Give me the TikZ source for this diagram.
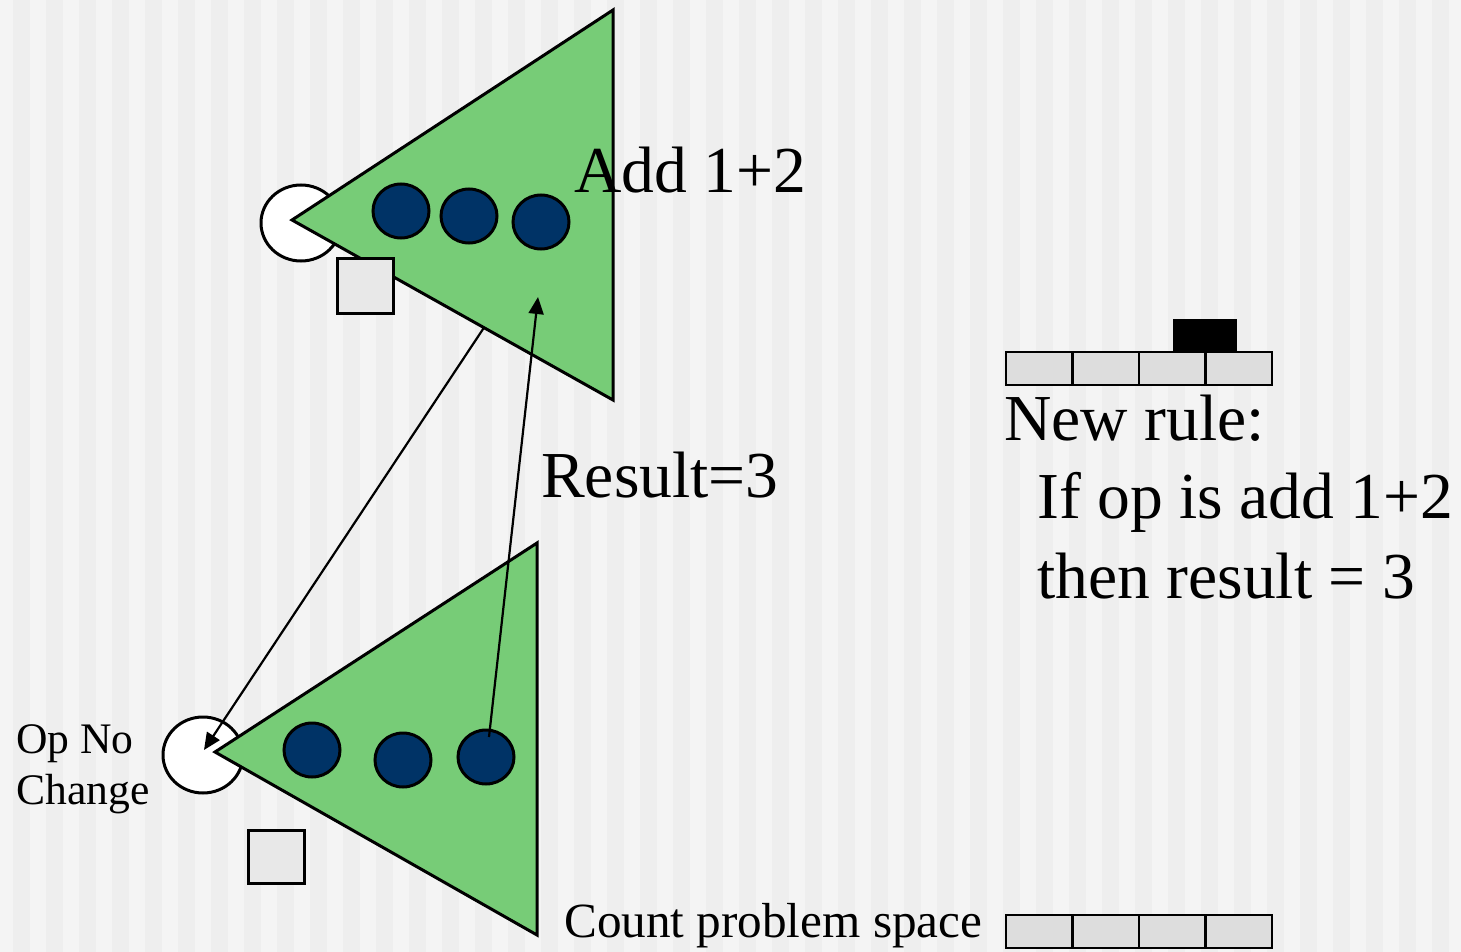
\documentclass[tikz,border=0pt]{standalone}
\usepackage{fontspec}
\setmainfont{Liberation Serif}
\usetikzlibrary{arrows.meta,calc}
\definecolor{bglight}{HTML}{F4F4F4}
\definecolor{bgdark}{HTML}{EEEEEE}
\definecolor{trigreen}{HTML}{77CC77}
\definecolor{navy}{HTML}{003366}
\definecolor{sqgray}{HTML}{E8E8E8}
\definecolor{cellgray}{HTML}{DDDDDD}
\tikzset{
  tri/.style={draw=black, fill=trigreen, line width=3pt, line join=miter},
  dot/.style={draw=black, fill=navy, line width=3pt},
  sq/.style={draw=black, fill=sqgray, line width=3pt},
  cell/.style={draw=black, fill=cellgray, line width=2.5pt},
  conn/.style={draw=black, line width=2.2pt, -{Triangle[length=17pt,width=15pt]}},
  bigtxt/.style={anchor=base west, inner sep=0pt, font=\fontsize{65.6}{78}\selectfont},
  midtxt/.style={anchor=base west, inner sep=0pt, font=\fontsize{49.2}{56}\selectfont},
  smalltxt/.style={anchor=base west, inner sep=0pt, font=\fontsize{43.6}{49}\selectfont, align=left},
}
\begin{document}
\begin{tikzpicture}[x=1pt,y=-1pt]
\useasboundingbox (0,0) rectangle (1461,952);
% background stripes
\fill[bglight] (0,0) rectangle (1461,952);
\foreach \k in {0,...,44} {
  \fill[bgdark] ({13+33*\k},0) rectangle ({30+33*\k},952);
}
% ---- top problem space ----
\draw[line width=3pt, fill=white] (301,223) ellipse [x radius=40, y radius=38];
\coordinate (tA) at (292,220);
\coordinate (tB) at (613,10);
\coordinate (tC) at (613,400);
\path[tri] (tA) -- (tB) -- (tC) -- cycle;
\path[sq] (337,258) rectangle (393,313);
\draw[dot] (401,211) ellipse [x radius=28, y radius=27];
\draw[dot] (469,216) ellipse [x radius=28, y radius=27];
\draw[dot] (541,222) ellipse [x radius=28, y radius=27];
% ---- bottom problem space ----
\draw[line width=3pt, fill=white] (203,755) ellipse [x radius=40, y radius=38];
\coordinate (bA) at (215,752);
\coordinate (bB) at (537,543);
\coordinate (bC) at (537,935);
\path[tri] (bA) -- (bB) -- (bC) -- cycle;
\path[sq] (248,830) rectangle (304,883);
\draw[dot] (312,750) ellipse [x radius=28, y radius=27];
\draw[dot] (403,760) ellipse [x radius=28, y radius=27];
\draw[dot] (486,757) ellipse [x radius=28, y radius=27];
% connector endpoints
\coordinate (topedge) at ($(tA)!0.598!(tC)$);
\coordinate (opnc) at (204,750);
\coordinate (dot3top) at (489,737);
\coordinate (topin) at (538,297);
\draw[conn] (topedge) -- (opnc);
\draw[conn] (dot3top) -- (topin);
% ---- tapes ----
\fill[black] (1173,319) rectangle (1237,352);
\foreach \i in {0,1,2,3} {
  \path[cell] ({1006+66.5*\i},352) rectangle ({1072.5+66.5*\i},385);
  \path[cell] ({1006+66.5*\i},915) rectangle ({1072.5+66.5*\i},948);
}
% ---- texts ----
\node[bigtxt] (add) at (574,193) {Add 1+2};
\node[bigtxt] (res) at (541,497) {Result=3};
\node[bigtxt] (nr) at (1004,440) {New rule:};
\node[bigtxt] (r1) at (1037,518) {If op is add 1+2};
\node[bigtxt] (r2) at (1037,598) {then result = 3};
\node[smalltxt] (op1) at (16,753) {Op No};
\node[smalltxt] (op2) at (16,804) {Change};
\node[midtxt] (cps) at (564,937) {Count problem space};
\end{tikzpicture}
\end{document}
